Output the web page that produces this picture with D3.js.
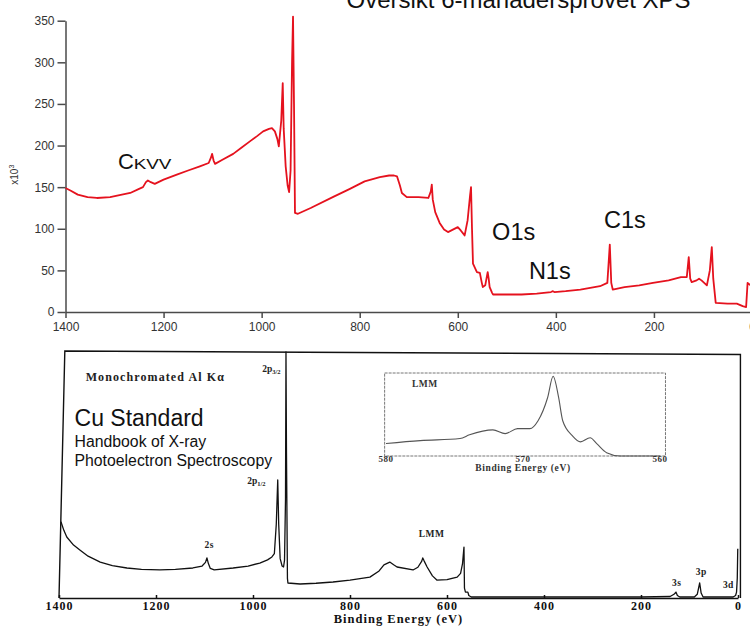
<!DOCTYPE html>
<html>
<head>
<meta charset="utf-8">
<script src="https://cdn.jsdelivr.net/npm/d3@7"></script>
<style>
  body { margin: 0; background: #fff; }
  svg  { display: block; }
</style>
</head>
<body>
<div id="graph"></div>
<script>

// Top spectrum: binding energy (eV) and counts (x10^3)
var topEnergy = [ 1400, 1390, 1375, 1355, 1336, 1309, 1285, 1268, 1250, 1242, 1236, 1232, 1226, 1218, 1200,
                  1173, 1150, 1126, 1108, 1103, 1101, 1098, 1095, 1080, 1058, 1040, 1024, 1010, 997, 985,
                  979, 973, 968, 965, 960, 957, 955, 951, 947, 944, 941, 938, 936, 934, 932, 926, 900, 855,
                  820, 790, 759, 740, 730, 724, 718, 714, 704, 680, 660, 655, 653, 651, 646, 637, 628, 620,
                  610, 600, 594, 586, 580, 575, 573, 571, 569, 561, 555, 551, 549, 544, 540, 539, 537, 535,
                  530, 528, 500, 470, 439, 410, 406, 403, 380, 350, 310, 295, 290, 287, 284, 260, 230, 202,
                  170, 145, 137, 133, 129, 126, 123, 113, 108, 103, 92, 86, 82, 79, 74, 50, 31, 19, 12, 9, 5, 0 ];
var topCounts = [ 149, 146, 141, 138, 137, 138, 141, 143, 148, 150, 156, 158, 156, 154, 159,
                  165, 170, 175, 179, 186, 190, 182, 178, 183, 190, 198, 205, 211, 217, 220,
                  221, 217, 208, 199, 230, 275, 220, 175, 152, 144, 170, 300, 355, 250, 119, 118, 125, 138,
                  148, 157, 162, 164, 164, 163, 152, 143, 138, 138, 137, 145, 153, 135, 120, 107, 99, 96,
                  99, 102, 98, 92, 110, 140, 150, 100, 58, 48, 47, 35, 30, 32, 45, 48, 40, 30,
                  23, 21, 21, 21, 22, 24, 25, 24, 25, 27, 31, 35, 81, 35, 27, 30, 32, 35,
                  38, 42, 42, 42, 66, 40, 36, 38, 40, 38, 32, 50, 78, 40, 11, 10, 10, 7, 6, 35, 33, 32 ];

var topXTicks = [ 1400, 1200, 1000, 800, 600, 400, 200, 0 ];
var topYTicks = [ 0, 50, 100, 150, 200, 250, 300, 350 ];

var topLabelText   = [ 'O1s', 'N1s', 'C1s' ];
var topLabelEnergy = [ 530, 455, 302 ];
var topLabelCounts = [ 87, 40, 101 ];

// Bottom spectrum (Cu standard), arbitrary intensity, 100 = top of frame
var botEnergy = [ 1396, 1390, 1384, 1370, 1357, 1340, 1315, 1290, 1260, 1230, 1192, 1160, 1124, 1105, 1098,
                  1095, 1092, 1088, 1080, 1041, 1010, 986, 970, 961, 956, 952, 949, 947, 944, 940, 937, 935,
                  933, 932, 931, 929, 928, 903, 870, 835, 800, 759, 740, 730, 718, 710, 703, 670, 660, 652,
                  650, 647, 641, 630, 621, 600, 579, 572, 568, 565, 564, 562, 557, 555, 550, 400, 200, 140,
                  132, 128, 125, 120, 90, 84, 79, 76, 72, 10, 5, 3, 1.5, 0.5 ];
var botIntensity = [ 31, 27.5, 24.8, 21.5, 19.5, 17, 14.6, 13.2, 12.2, 11.6, 11.4, 11.6, 12.2, 13, 14.5,
                     16.3, 14, 12, 11.4, 12.2, 13, 14.2, 15.5, 16.7, 18, 30, 48, 30, 16, 13, 12.6, 15.4,
                     40, 100, 60, 8, 6.1, 5.7, 6, 6.5, 7.3, 8.5, 11, 13.5, 14.6, 13.5, 12.6, 11.4, 12.5, 15,
                     16.3, 15, 12.6, 9, 7.3, 7.5, 8.5, 10, 14, 20.7, 4, 2.4, 2.4, 1, 0.4, 0.4, 0.4, 0.6,
                     1.5, 2.4, 1, 0.4, 0.4, 1.5, 6.1, 2, 0.4, 0.4, 1, 2.4, 8, 20 ];

var botXTicks = [ 1400, 1200, 1000, 800, 600, 400, 200, 0 ];

var botLabelText   = [ '2s', 'LMM', '3s', '3p', '3d' ];
var botLabelEnergy = [ 1100, 658, 136, 87, 31 ];
var botLabelValue  = [ 20.5, 25, 5, 9.5, 4 ];

// Inset: LMM region
var insetEnergy    = [ 580, 577.5, 574.6, 573.9, 572.2, 571.3, 570.4, 569.5, 568.9, 568.2, 567.8, 567.4,
                       567.1, 566.4, 565.8, 565.1, 564.6, 563.9, 562.9, 560 ];
var insetIntensity = [ 15, 18.5, 21, 25.5, 31.5, 27, 33, 33, 42.5, 70.5, 96, 70.5,
                       42.5, 24.5, 17, 22, 14.5, 4, 0, 0 ];
var insetXTicks    = [ 580, 570, 560 ];


function D3App ()
{
    var width  = 750;
    var height = 626;

    var sans  = 'Liberation Sans, Arial, sans-serif';
    var serif = 'Liberation Serif, Times New Roman, serif';

    var svg = d3.select ('#graph').append ('svg')
                .attr ('width', width)
                .attr ('height', height);

    //
    // Top chart
    //
    var xTop = d3.scaleLinear ().domain ( [ 1400, 0 ] ).range ( [ 65.5, 752 ] );
    var yTop = d3.scaleLinear ().domain ( [ 0, 350 ] ).range ( [ 312, 20.7 ] );

    var topData = topEnergy.map (function (e, i) { return [ e, topCounts[i] ]; });

    var gTop = svg.append ('g');

    var yAxis = d3.axisLeft (yTop)
                  .tickValues (topYTicks)
                  .tickFormat (d3.format ('d'))
                  .tickSize (8)
                  .tickSizeOuter (0)
                  .tickPadding (3);

    var xAxis = d3.axisBottom (xTop)
                  .tickValues (topXTicks)
                  .tickFormat (d3.format ('d'))
                  .tickSize (6)
                  .tickSizeOuter (0)
                  .tickPadding (4);

    gTop.append ('g')
        .attr ('transform', 'translate(' + xTop(1400) + ',0)')
        .call (yAxis);

    gTop.append ('g')
        .attr ('transform', 'translate(0,' + yTop(0) + ')')
        .call (xAxis);

    gTop.selectAll ('.domain, .tick line')
        .attr ('stroke', '#4a4a4a')
        .attr ('stroke-width', 1.5);

    gTop.selectAll ('.tick text')
        .attr ('font-family', sans)
        .attr ('font-size', '12px')
        .attr ('fill', '#333');

    // x10^3 unit label
    var unit = gTop.append ('text')
                   .attr ('transform', 'translate(18,' + yTop(165) + ') rotate(-90)')
                   .attr ('text-anchor', 'middle')
                   .attr ('font-family', sans)
                   .attr ('font-size', '10px')
                   .attr ('fill', '#333')
                   .text ('x10');
    unit.append ('tspan')
        .attr ('dy', -4)
        .attr ('font-size', '7px')
        .text ('3');

    // the spectrum
    gTop.append ('path')
        .datum (topData)
        .attr ('d', d3.line ().x (function (d) { return xTop (d[0]); })
                              .y (function (d) { return yTop (d[1]); }))
        .attr ('fill', 'none')
        .attr ('stroke', '#e5121e')
        .attr ('stroke-width', 1.8)
        .attr ('stroke-linejoin', 'round');

    // title, clipped by the top of the page
    gTop.append ('text')
        .attr ('x', xTop(827))
        .attr ('y', 8)
        .attr ('font-family', sans)
        .attr ('font-size', '24px')
        .attr ('fill', '#111')
        .text ('Översikt 6-månadersprovet XPS');

    // C KVV
    gTop.append ('text')
        .attr ('x', xTop(1293))
        .attr ('y', yTop(172))
        .attr ('font-family', sans)
        .attr ('font-size', '22px')
        .attr ('fill', '#111')
        .text ('C');

    gTop.append ('text')
        .attr ('transform', 'translate(' + xTop(1261) + ',' + yTop(172) + ') scale(1.35,1)')
        .attr ('font-family', sans)
        .attr ('font-size', '14px')
        .attr ('fill', '#111')
        .text ('KVV');

    for (var i = 0; i < topLabelText.length; i++)
    {
        gTop.append ('text')
            .attr ('x', xTop (topLabelEnergy[i]))
            .attr ('y', yTop (topLabelCounts[i]))
            .attr ('font-family', sans)
            .attr ('font-size', '23.5px')
            .attr ('fill', '#111')
            .text (topLabelText[i]);
    }

    //
    // Bottom chart (scanned handbook spectrum)
    //
    var xBot = d3.scaleLinear ().domain ( [ 1400, 0 ] ).range ( [ 59, 738 ] );
    var yBot = d3.scaleLinear ().domain ( [ 0, 100 ] ).range ( [ 598, 352 ] );

    var botData = botEnergy.map (function (e, i) { return [ e, botIntensity[i] ]; });

    var gBot = svg.append ('g');

    // frame
    gBot.append ('path')
        .attr ('d', 'M' + xBot(1400) + ',' + yBot(0) +
                    'L' + xBot(1388) + ',' + yBot(100.4) +
                    'L' + xBot(-5) + ',' + yBot(99) +
                    'L' + xBot(-5) + ',' + yBot(0))
        .attr ('fill', 'none')
        .attr ('stroke', '#111')
        .attr ('stroke-width', 1.4);

    var botAxis = d3.axisBottom (xBot)
                    .tickValues (botXTicks)
                    .tickFormat (d3.format ('d'))
                    .tickSize (-3)
                    .tickSizeOuter (0)
                    .tickPadding (3);

    gBot.append ('g')
        .attr ('transform', 'translate(0,' + yBot(0) + ')')
        .call (botAxis);

    gBot.selectAll ('.domain, .tick line')
        .attr ('stroke', '#111')
        .attr ('stroke-width', 1.5);

    gBot.selectAll ('.tick text')
        .attr ('font-family', serif)
        .attr ('font-weight', 'bold')
        .attr ('font-size', '12px')
        .attr ('letter-spacing', '1px')
        .attr ('fill', '#111');

    gBot.append ('text')
        .attr ('x', xBot(700))
        .attr ('y', 623)
        .attr ('text-anchor', 'middle')
        .attr ('font-family', serif)
        .attr ('font-weight', 'bold')
        .attr ('font-size', '12.5px')
        .attr ('letter-spacing', '1px')
        .attr ('fill', '#111')
        .text ('Binding Energy (eV)');

    gBot.append ('path')
        .datum (botData)
        .attr ('d', d3.line ().x (function (d) { return xBot (d[0]); })
                              .y (function (d) { return yBot (d[1]); }))
        .attr ('fill', 'none')
        .attr ('stroke', '#111')
        .attr ('stroke-width', 1.3)
        .attr ('stroke-linejoin', 'round');

    // peak labels
    for (var j = 0; j < botLabelText.length; j++)
    {
        gBot.append ('text')
            .attr ('x', xBot (botLabelEnergy[j]))
            .attr ('y', yBot (botLabelValue[j]))
            .attr ('font-family', serif)
            .attr ('font-weight', 'bold')
            .attr ('font-size', '9.5px')
            .attr ('letter-spacing', '0.4px')
            .attr ('fill', '#222')
            .text (botLabelText[j]);
    }

    function spinLabel (energy, value, sub)
    {
        var t = gBot.append ('text')
                    .attr ('x', xBot (energy))
                    .attr ('y', yBot (value))
                    .attr ('font-family', serif)
                    .attr ('font-weight', 'bold')
                    .attr ('font-size', '9.5px')
                    .attr ('fill', '#222')
                    .text ('2p');
        t.append ('tspan')
         .attr ('dy', 2)
         .attr ('font-size', '6.5px')
         .text (sub);
    }
    spinLabel (981, 92, '3/2');
    spinLabel (1012, 46.5, '1/2');

    gBot.append ('text')
        .attr ('x', xBot(1345))
        .attr ('y', yBot(88.2))
        .attr ('font-family', serif)
        .attr ('font-weight', 'bold')
        .attr ('font-size', '12px')
        .attr ('letter-spacing', '1.1px')
        .attr ('fill', '#222')
        .text ('Monochromated Al Kα');

    var cuText  = [ 'Cu Standard', 'Handbook of X-ray', 'Photoelectron Spectroscopy' ];
    var cuSize  = [ 23, 15.8, 15.8 ];
    var cuValue = [ 70, 61.5, 53.7 ];

    for (var k = 0; k < cuText.length; k++)
    {
        gBot.append ('text')
            .attr ('x', xBot(1368))
            .attr ('y', yBot (cuValue[k]))
            .attr ('font-family', sans)
            .attr ('font-size', cuSize[k] + 'px')
            .attr ('fill', '#111')
            .text (cuText[k]);
    }

    //
    // Inset: LMM detail
    //
    var xIn = d3.scaleLinear ().domain ( [ 580, 560 ] ).range ( [ 386, 660 ] );
    var yIn = d3.scaleLinear ().domain ( [ 0, 100 ] ).range ( [ 456, 373 ] );

    var insetData = insetEnergy.map (function (e, i) { return [ e, insetIntensity[i] ]; });

    var gIn = svg.append ('g');

    gIn.append ('rect')
       .attr ('x', xIn(580.1))
       .attr ('y', yIn(100))
       .attr ('width', xIn(559.6) - xIn(580.1))
       .attr ('height', yIn(0) - yIn(100))
       .attr ('fill', 'none')
       .attr ('stroke', '#777')
       .attr ('stroke-width', 1)
       .attr ('stroke-dasharray', '3,1');

    gIn.append ('path')
       .datum (insetData)
       .attr ('d', d3.line ().curve (d3.curveMonotoneX)
                             .x (function (d) { return xIn (d[0]); })
                             .y (function (d) { return yIn (d[1]); }))
       .attr ('fill', 'none')
       .attr ('stroke', '#555')
       .attr ('stroke-width', 1.1);

    gIn.selectAll ('.inTick')
       .data (insetXTicks)
       .enter ()
       .append ('text')
       .attr ('class', 'inTick')
       .attr ('x', function (d) { return xIn (d); })
       .attr ('y', 462)
       .attr ('text-anchor', 'middle')
       .attr ('font-family', serif)
       .attr ('font-weight', 'bold')
       .attr ('font-size', '9px')
       .attr ('letter-spacing', '0.5px')
       .attr ('fill', '#333')
       .text (function (d) { return d; });

    gIn.append ('text')
       .attr ('x', xIn(570))
       .attr ('y', 471)
       .attr ('text-anchor', 'middle')
       .attr ('font-family', serif)
       .attr ('font-weight', 'bold')
       .attr ('font-size', '9.5px')
       .attr ('letter-spacing', '0.6px')
       .attr ('fill', '#333')
       .text ('Binding Energy (eV)');

    gIn.append ('text')
       .attr ('x', xIn(578.1))
       .attr ('y', yIn(83))
       .attr ('font-family', serif)
       .attr ('font-weight', 'bold')
       .attr ('font-size', '9.5px')
       .attr ('letter-spacing', '0.5px')
       .attr ('fill', '#333')
       .text ('LMM');
}

D3App ();

</script>
</body>
</html>
